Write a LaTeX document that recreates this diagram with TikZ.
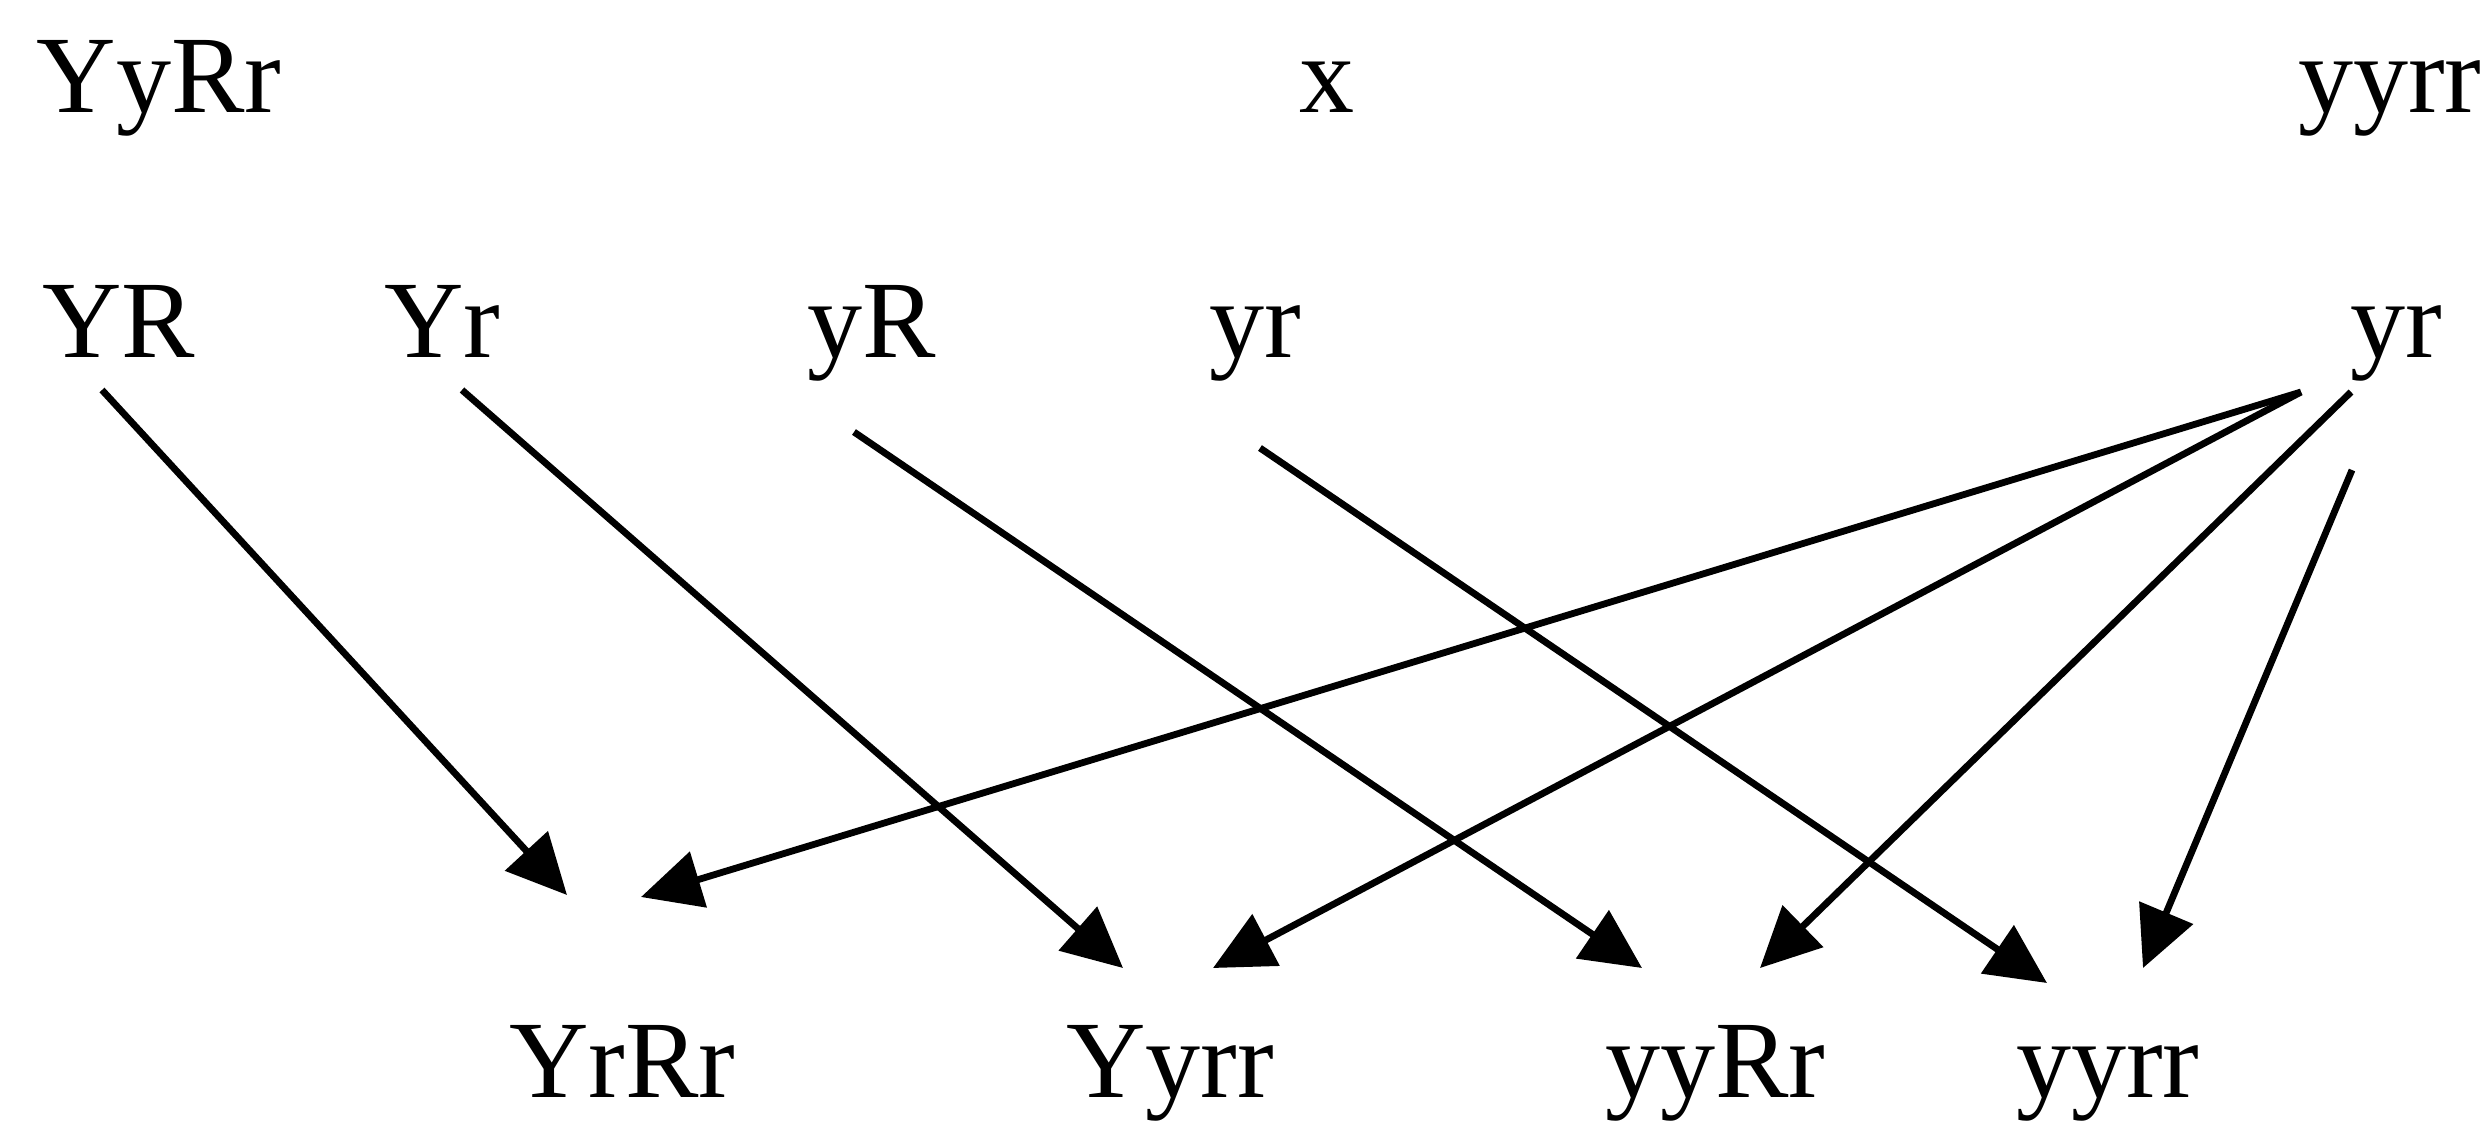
\documentclass[tikz,border=0pt]{standalone}
\usepackage{fontspec}
\setmainfont{Liberation Serif}
\usetikzlibrary{arrows.meta}
\begin{document}
\begin{tikzpicture}[x=0.01cm,y=-0.01cm,
  lbl/.style={anchor=base west,inner sep=0pt,outer sep=0pt,font=\fontsize{31.3}{36}\selectfont},
  arr/.style={line width=0.068cm,-{Triangle[length=0.6cm,width=0.57cm]}}]
\useasboundingbox (0,0) rectangle (2488,1145);
% top row
\node[lbl] (P1) at (37,112) {YyRr};
\node[lbl] (cross) at (1299,112) {x};
\node[lbl] (P2) at (2298,112) {yyrr};
% gametes
\node[lbl] (gYR) at (42,357) {YR};
\node[lbl] (gYr) at (384,357) {Yr};
\node[lbl] (gyR) at (807,357) {yR};
\node[lbl] (gyr) at (1209,357) {yr};
\node[lbl] (gyrR) at (2350,357) {yr};
% offspring
\node[lbl] (oYrRr) at (509,1097) {YrRr};
\node[lbl] (oYyrr) at (1066,1097) {Yyrr};
\node[lbl] (oyyRr) at (1605,1097) {yyRr};
\node[lbl] (oyyrr) at (2016,1097) {yyrr};
% arrow end points
\coordinate (sYR) at (102,390);
\coordinate (sYr) at (462,390);
\coordinate (syR) at (854,432);
\coordinate (syr) at (1260,448);
\coordinate (sR1) at (2301,392);
\coordinate (sR2) at (2351,392);
\coordinate (sR3) at (2352,470);
\coordinate (t1) at (567,895);
\coordinate (t2) at (641,897);
\coordinate (t3) at (1123,968);
\coordinate (t4) at (1213,968);
\coordinate (t5) at (1642,968);
\coordinate (t6) at (1760,968);
\coordinate (t7) at (2047,983);
\coordinate (t8) at (2143,968);
% arrows
\draw[arr] (sYR) -- (t1);
\draw[arr] (sYr) -- (t3);
\draw[arr] (syR) -- (t5);
\draw[arr] (syr) -- (t7);
\draw[arr] (sR1) -- (t2);
\draw[arr] (sR1) -- (t4);
\draw[arr] (sR2) -- (t6);
\draw[arr] (sR3) -- (t8);
\end{tikzpicture}
\end{document}
